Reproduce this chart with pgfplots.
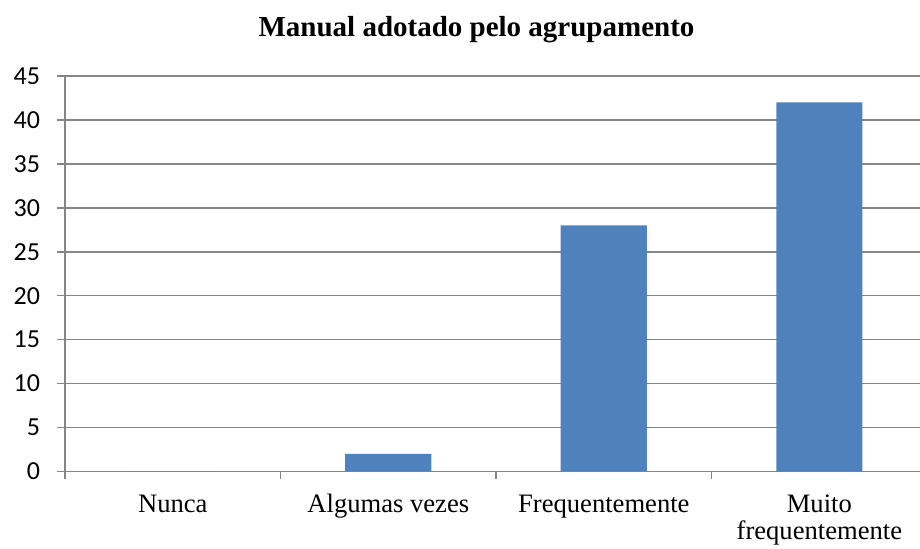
\documentclass[border=0pt]{standalone}
\usepackage{fontspec}
\setmainfont{Liberation Serif}
\newfontfamily\carlito{Carlito}
\usepackage{pgfplots}
\pgfplotsset{compat=1.18}
\definecolor{barblue}{HTML}{4F81BD}
\definecolor{axgray}{HTML}{868686}
\newcommand{\tp}{\rule{0pt}{9.5pt}}

\begin{document}
\begin{tikzpicture}
\begin{axis}[
  at={(32.5pt,38.75pt)}, anchor=south west,
  scale only axis, width=427.5pt, height=197.75pt,
  xmin=-0.5, xmax=3.467, ymin=0, ymax=45,
  ytick={0,5,...,45},
  xtick={0,1,2,3},
  xticklabels={\tp Nunca, \tp Algumas vezes, \tp Frequentemente, \tp Muito\\frequentemente},
  minor xtick={-0.5,0.5,1.5,2.5},
  axis lines*=left,
  axis line style={axgray, line width=0.75pt},
  tick align=outside,
  major tick length=4pt, minor tick length=4pt,
  major x tick style={draw=none},
  minor x tick style={axgray, line width=0.75pt},
  major y tick style={axgray, line width=0.75pt},
  ymajorgrids=true,
  grid style={axgray, line width=0.75pt},
  /pgf/number format/assume math mode=true,
  yticklabel style={font=\carlito\fontsize{13}{15}\selectfont, xshift=-5pt},
  xticklabel style={font=\fontsize{13.3}{13.5}\selectfont, align=center, anchor=north, yshift=-3.5pt},
  bar width=0.4,
]
\addplot[ybar, fill=barblue, draw=none] coordinates {(0,0) (1,2) (2,28) (3,42)};
\end{axis}
\node[anchor=base, font=\bfseries\fontsize{14.5}{16}\selectfont] at (238.25pt,256pt) {Manual adotado pelo agrupamento};
\pgfresetboundingbox
\useasboundingbox (0,0) rectangle (460pt,274.5pt);
\end{tikzpicture}
\end{document}
